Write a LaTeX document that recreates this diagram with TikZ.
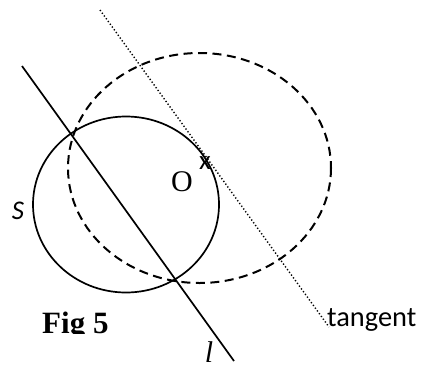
\documentclass[tikz,border=0pt]{standalone}
\usepackage{fontspec}
\setmainfont{Liberation Serif}
\newfontfamily\calfont{Carlito}
\begin{document}
\begin{tikzpicture}[x=1pt,y=-1pt,
  solidline/.style={line width=1.7pt},
  dashline/.style={line width=2pt, dash pattern=on 9pt off 5.5pt},
  dotline/.style={line width=1.4pt, dash pattern=on 1.3pt off 2.1pt},
  lbl/.style={inner sep=0pt, font=\fontsize{28}{30}\selectfont}]
\useasboundingbox (0,0) rectangle (422,367);
% solid circle S
\draw[solidline] (126,204.5) ellipse [x radius=93, y radius=88];
% dashed ellipse
\draw[dashline] (199.5,168) ellipse [x radius=131.5, y radius=115];
% line l
\coordinate (la) at (22,66);
\coordinate (lb) at (234,361);
\draw[solidline] (la) -- (lb);
% tangent
\coordinate (ta) at (100,10);
\coordinate (tb) at (329,327);
\draw[dotline] (ta) -- (tb);
% labels
\node[lbl, font=\fontsize{30}{32}\selectfont] (O) at (182,182) {O};
\node[lbl, font=\calfont\fontsize{27}{30}\selectfont] (xm) at (205,163) {x};
\node[lbl, font=\calfont\itshape\fontsize{27}{30}\selectfont] (S) at (18,211) {S};
\node[lbl, anchor=base, font=\itshape\fontsize{30}{32}\selectfont] (l) at (209,362) {l};
\node[lbl, anchor=base west, font=\calfont\fontsize{28.4}{30}\selectfont] (tan) at (327,326) {tangent};
\begin{scope}
\clip (0,0) rectangle (422,333);
\node[lbl, anchor=base west, font=\bfseries\fontsize{31}{32}\selectfont] (fig) at (42,333) {Fig 5};
\end{scope}
\end{tikzpicture}
\end{document}
